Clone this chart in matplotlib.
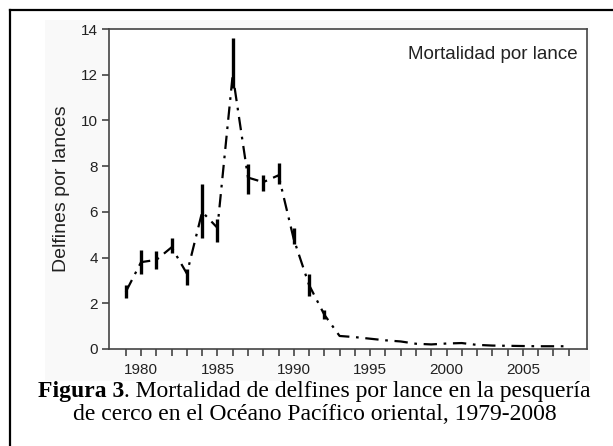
"""Dolphin mortality per set, eastern Pacific purse-seine fishery."""
import matplotlib.pyplot as plt
from matplotlib.patches import Rectangle
from matplotlib.lines import Line2D

# Data
years = list(range(1979, 2009))
mortality = [2.5, 3.8, 3.9, 4.45, 3.3, 6.0, 5.3, 12.0, 7.5, 7.3,
             7.6, 4.8, 2.8, 1.5, 0.57, 0.52, 0.45, 0.38, 0.33, 0.23,
             0.2, 0.24, 0.26, 0.18, 0.15, 0.14, 0.13, 0.12, 0.12, 0.12]
# Error bars (low, high) only for the early years
err_years = list(range(1979, 1993))
err_low = [2.25, 3.3, 3.5, 4.2, 2.8, 4.85, 4.7, 11.4, 6.8, 6.9, 7.2, 4.6, 2.3, 1.3]
err_high = [2.8, 4.35, 4.3, 4.85, 3.5, 7.2, 5.7, 13.6, 8.1, 7.6, 8.15, 5.3, 3.3, 1.7]

yticks = [0, 2, 4, 6, 8, 10, 12, 14]
xticks = [1980, 1985, 1990, 1995, 2000, 2005]

plt.rcParams['font.family'] = ['Liberation Sans', 'DejaVu Sans']

fig = plt.figure(figsize=(6.13, 4.46), dpi=100)
W, H = 613, 446

# Light grey backdrop of the pasted chart image
fig.patches.append(Rectangle((45 / W, 1 - 381 / H), 545 / W, 361 / H,
                             transform=fig.transFigure, facecolor='#f9f9f9',
                             edgecolor='none', zorder=-5))
# Outer frame (only left and top are visible)
fig.add_artist(Line2D([10 / W, 10 / W], [0, 1 - 10 / H], color='black', lw=1.6,
                      transform=fig.transFigure))
fig.add_artist(Line2D([10 / W, 1], [1 - 10 / H, 1 - 10 / H], color='black',
                      lw=1.6, transform=fig.transFigure))

ax = fig.add_axes([109 / W, 1 - 349 / H, (587 - 109) / W, (349 - 29) / H])
ax.set_facecolor('white')

ax.vlines(err_years, err_low, err_high, color='black', lw=2.4, zorder=3)
ax.plot(years, mortality, color='black', lw=1.6, dashes=(6, 3, 1.2, 3),
        zorder=2)

ax.set_xlim(1977.9, 2009.2)
ax.set_ylim(0, 14)
ax.set_yticks(yticks)
ax.set_xticks(years, minor=True)
ax.set_xticks(xticks)

for spine in ax.spines.values():
    spine.set_color('#444444')
    spine.set_linewidth(1.2)
ax.tick_params(axis='both', which='both', direction='out', color='#444444',
               width=1.2, labelsize=11, labelcolor='#222222')
ax.tick_params(axis='x', which='major', length=5, pad=5)
ax.tick_params(axis='x', which='minor', length=5)
ax.tick_params(axis='y', length=5, pad=3)

ax.set_ylabel('Delfines por lances', fontsize=14, color='#222222', labelpad=8)
ax.text(0.98, 0.92, 'Mortalidad por lance', transform=ax.transAxes,
        ha='right', va='center', fontsize=13.5, color='#222222')

# Caption: bold "Figura 3" followed by regular text, centred as one line
cap_font = ['Liberation Serif', 'DejaVu Serif']
cap_size = 17
y1 = 1 - 391 / H
t_bold = fig.text(0, y1, 'Figura 3', ha='left', va='center', fontsize=cap_size,
                  family=cap_font, weight='bold')
t_rest = fig.text(0, y1, '. Mortalidad de delfines por lance en la pesquería',
                  ha='left', va='center', fontsize=cap_size, family=cap_font)
renderer = fig.canvas.get_renderer()
w_bold = t_bold.get_window_extent(renderer).width / W
w_rest = t_rest.get_window_extent(renderer).width / W
x0 = 0.5 - (w_bold + w_rest) / 2 + 8 / W
t_bold.set_x(x0)
t_rest.set_x(x0 + w_bold)
fig.text(0.5 + 8 / W, 1 - 415 / H,
         'de cerco en el Océano Pacífico oriental, 1979-2008',
         ha='center', va='center', fontsize=cap_size, family=cap_font)

fig.savefig('out.png', dpi=100)
